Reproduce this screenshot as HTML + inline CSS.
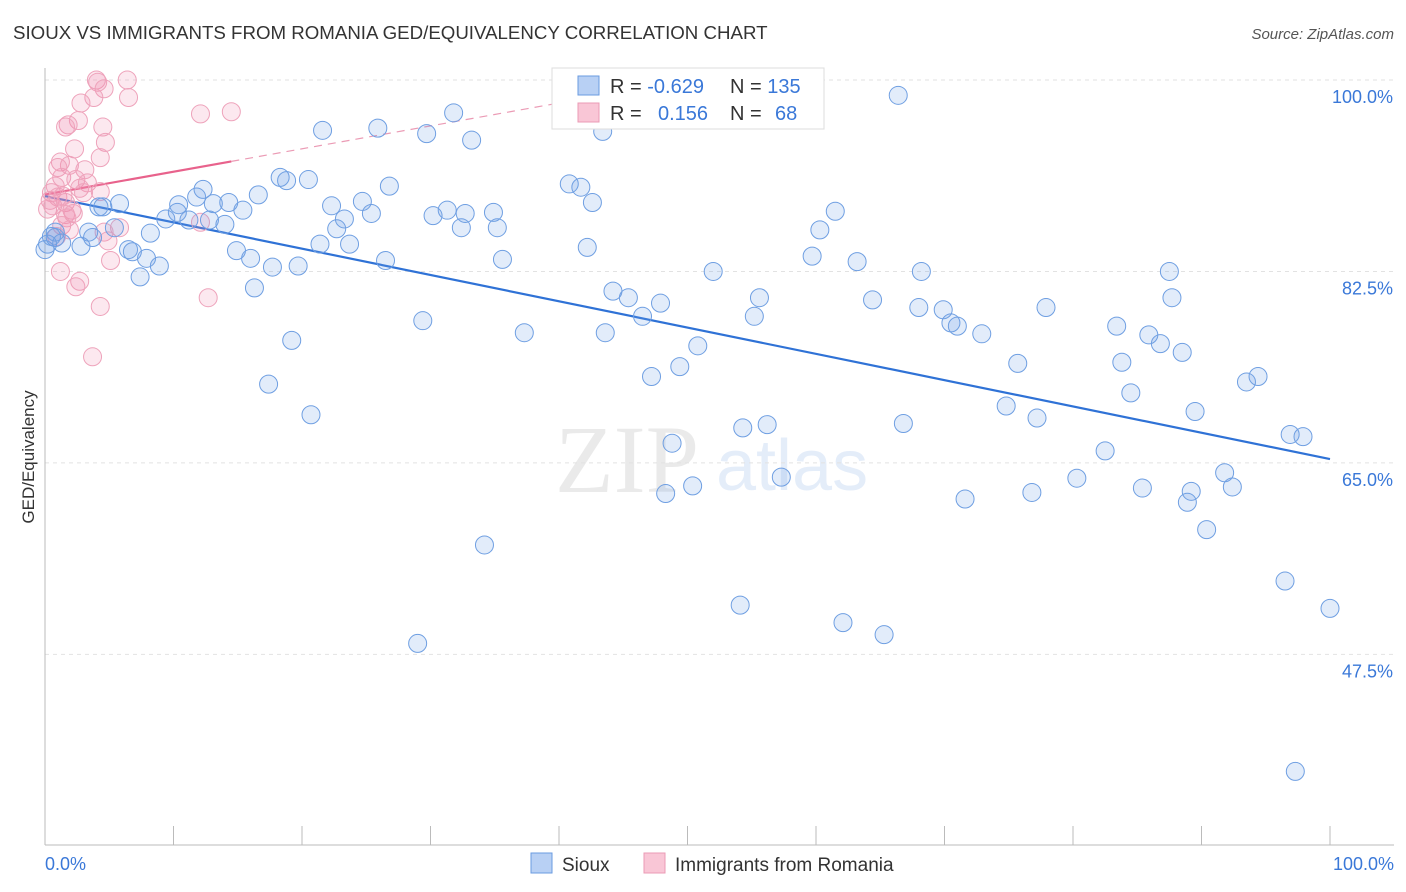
<!DOCTYPE html>
<html><head><meta charset="utf-8">
<style>
body{margin:0;background:#fff;font-family:"Liberation Sans",sans-serif;}
svg{display:block}
</style></head>
<body>
<svg id="chart" width="1406" height="892" xmlns="http://www.w3.org/2000/svg">
<text x="13" y="39" font-size="18.7" fill="#333" font-family="Liberation Sans, sans-serif">SIOUX VS IMMIGRANTS FROM ROMANIA GED/EQUIVALENCY CORRELATION CHART</text>
<text x="1394" y="39" font-size="15" fill="#555" text-anchor="end" font-style="italic">Source: ZipAtlas.com</text>
<text transform="translate(34,457) rotate(-90)" font-size="17" fill="#333" text-anchor="middle">GED/Equivalency</text>
<g opacity="0.13">
<text x="555" y="492" font-size="96" font-family="Liberation Serif, serif" fill="#666">ZIP</text>
<text x="716" y="490" font-size="72" fill="#3a78d8">atlas</text>
</g>
<g id="grid"></g>
<g id="axes"></g>
<g id="lines"></g>
<g id="points"></g>
<g>
<rect x="552" y="68" width="272" height="61" fill="#fff" stroke="#ddd"/>
<rect x="578" y="76" width="21" height="19" fill="#b8d0f4" stroke="#6a9be0"/>
<rect x="578" y="103" width="21" height="19" fill="#f9c6d6" stroke="#eb9bb5"/>
<text x="610" y="93" font-size="20" fill="#333">R = <tspan fill="#3a78d8">-0.629</tspan></text>
<text x="730" y="93" font-size="20" fill="#333">N = <tspan fill="#3a78d8">135</tspan></text>
<text x="610" y="120" font-size="20" fill="#333">R = </text>
<text x="658" y="120" font-size="20" fill="#3a78d8">0.156</text>
<text x="730" y="120" font-size="20" fill="#333">N = </text>
<text x="775" y="120" font-size="20" fill="#3a78d8">68</text>
</g>
<g>
<rect x="531" y="853" width="21" height="20" fill="#b8d0f4" stroke="#6a9be0"/>
<text x="562" y="871" font-size="19" fill="#333">Sioux</text>
<rect x="644" y="853" width="21" height="20" fill="#f9c6d6" stroke="#eb9bb5"/>
<text x="675" y="871" font-size="19" fill="#333">Immigrants from Romania</text>
</g>
</svg>
<script>
const blueX=[66.4,31.8,21.6,25.9,29.7,33.2,43.4,18.3,18.8,20.5,26.8,24.7,40.8,41.7,42.6,12.3,11.8,10.4,10.3,9.4,11.2,12.8,14.0,13.1,14.3,15.4,16.6,22.3,23.3,25.4,30.2,31.3,32.7,34.9,32.4,35.2,61.5,60.3,5.8,4.5,4.2,8.2,5.4,3.4,3.7,2.8,6.5,6.8,7.9,8.9,7.4,14.9,16.0,17.7,19.7,21.4,23.7,22.7,26.5,35.6,42.2,59.7,63.2,52.0,68.2,87.5,44.2,45.4,47.9,55.6,55.2,46.5,64.4,68.0,69.9,70.5,71.0,72.9,77.9,83.4,85.9,86.8,87.7,88.5,83.8,84.5,75.7,89.5,93.5,94.4,96.9,97.9,82.5,74.8,77.2,66.8,56.2,54.3,48.8,50.8,49.4,47.2,43.6,37.3,29.4,19.2,17.4,20.7,16.3,48.3,50.4,57.3,71.6,76.8,80.3,85.4,88.9,89.2,91.8,92.4,90.4,96.5,100,54.1,62.1,65.3,34.2,29.0,97.3,0.8,1.3,0.5,0.2,0,0.8];
const blueY=[98.6,97.0,95.4,95.6,95.1,94.5,95.3,91.1,90.8,90.9,90.3,88.9,90.5,90.2,88.8,90.0,89.3,88.6,87.9,87.3,87.2,87.2,86.8,88.7,88.8,88.1,89.5,88.5,87.3,87.8,87.6,88.1,87.8,87.9,86.5,86.5,88.0,86.3,88.7,88.4,88.4,86.0,86.5,86.1,85.6,84.8,84.5,84.3,83.7,83.0,82.0,84.4,83.7,82.9,83.0,85.0,85.0,86.4,83.5,83.6,84.7,83.9,83.4,82.5,82.5,82.5,80.7,80.1,79.6,80.1,78.4,78.4,79.9,79.2,79.0,77.8,77.5,76.8,79.2,77.5,76.7,75.9,80.1,75.1,74.2,71.4,74.1,69.7,72.4,72.9,67.6,67.4,66.1,70.2,69.1,68.6,68.5,68.2,66.8,75.7,73.8,72.9,76.9,76.9,78.0,76.2,72.2,69.4,81.0,62.2,62.9,63.7,61.7,62.3,63.6,62.7,61.4,62.4,64.1,62.8,58.9,54.2,51.7,52.0,50.4,49.3,57.5,48.5,36.8,85.6,85.1,85.7,85.0,84.5,86.1];
const pinkX=[4.0,6.4,4.1,4.6,6.5,3.8,2.8,12.1,14.5,2.6,1.8,1.6,4.5,4.7,2.3,4.3,1.2,1.9,1.0,3.1,1.3,2.4,3.3,2.7,0.8,0.5,0.4,1.0,1.6,2.1,0.2,0.6,4.3,3.0,1.6,2.2,1.7,1.3,1.9,5.8,4.6,0.9,4.9,5.1,1.2,2.7,2.4,12.7,4.3,3.7,12.1,1.4];
const pinkY=[100,100,99.8,99.2,98.4,98.4,97.9,96.9,97.1,96.3,95.9,95.7,95.7,94.3,93.7,92.9,92.5,92.2,92.0,91.8,91.1,90.9,90.6,90.1,90.3,89.7,89.0,89.3,88.8,88.1,88.2,88.5,89.8,89.7,87.7,87.8,87.4,86.7,86.3,86.5,86.1,85.7,85.3,83.5,82.5,81.6,81.1,80.1,79.3,74.7,87.0,89.4];
const yTicks=[100,82.5,65,47.5];
const xTickVals=[0,10,20,30,40,50,60,70,80,90,100];
const NS="http://www.w3.org/2000/svg";
const X0=45,X1=1330,YTOP=80,PXPER=10.94;
const sx=v=>X0+(X1-X0)*v/100;
const sy=v=>YTOP+(100-v)*PXPER;
function mk(tag,attrs,parent){const e=document.createElementNS(NS,tag);for(const k in attrs)e.setAttribute(k,attrs[k]);parent.appendChild(e);return e;}
const grid=document.getElementById('grid'),axes=document.getElementById('axes'),lines=document.getElementById('lines'),pts=document.getElementById('points');
yTicks.forEach(t=>{
 const l=mk('line',{x1:45,x2:1394,y1:sy(t),y2:sy(t),stroke:'#e2e2e2','stroke-dasharray':'4,4'},grid);
 
 
 const tx=mk('text',{x:1393,y:sy(t)+23,'font-size':18,fill:'#3a78d8','text-anchor':'end'},axes);
 tx.textContent=t.toFixed(1)+'%';
 
 
});
const ax=mk('line',{x1:45,x2:45,y1:68,y2:845,stroke:'#bbb'},axes);


const bx=mk('line',{x1:45,x2:1394,y1:845,y2:845,stroke:'#bbb'},axes);


xTickVals.forEach(t=>{
 const l=mk('line',{x1:sx(t),x2:sx(t),y1:826,y2:845,stroke:'#bbb'},axes);
 
 
});
const xl0=mk('text',{x:45,y:870,'font-size':18,fill:'#3a78d8'},axes);xl0.textContent='0.0%';


const xl1=mk('text',{x:1394,y:870,'font-size':18,fill:'#3a78d8','text-anchor':'end'},axes);xl1.textContent='100.0%';


function fit(xs,ys){const n=xs.length;let mx=0,my=0;for(let i=0;i<n;i++){mx+=xs[i];my+=ys[i];}mx/=n;my/=n;let sxy=0,sxx=0;for(let i=0;i<n;i++){sxy+=(xs[i]-mx)*(ys[i]-my);sxx+=(xs[i]-mx)**2;}const b=sxy/sxx;return[my-b*mx,b];}
function drawPts(xs,ys,fill,stroke,name){for(let i=0;i<xs.length;i++){const c=mk('circle',{cx:sx(xs[i]),cy:sy(ys[i]),r:9,fill:fill,stroke:stroke,'stroke-width':1},pts);
 
 }}
drawPts(pinkX,pinkY,'rgba(240,140,175,0.2)','#eea3bb','romania-point');
drawPts(blueX,blueY,'rgba(110,160,230,0.2)','#6f9fe2','sioux-point');
const [ba,bb]=fit(blueX,blueY);
const bl=mk('line',{x1:sx(0),y1:sy(ba),x2:sx(100),y2:sy(ba+bb*100),stroke:'#2f72d6','stroke-width':2.2},lines);


const [pa,pb]=fit(pinkX,pinkY);
const pxMax=Math.max(...pinkX);
const pl=mk('line',{x1:sx(0),y1:sy(pa),x2:sx(pxMax),y2:sy(pa+pb*pxMax),stroke:'#e8628c','stroke-width':2.2},lines);


const xEnd=Math.min(100,(100-pa)/(pb||1e-9));
const pd=mk('line',{x1:sx(pxMax),y1:sy(pa+pb*pxMax),x2:sx(xEnd>pxMax?xEnd:100),y2:sy(pa+pb*(xEnd>pxMax?xEnd:100)),stroke:'#eb9bb5','stroke-width':1.2,'stroke-dasharray':'8,6'},lines);


</script>
</body></html>
